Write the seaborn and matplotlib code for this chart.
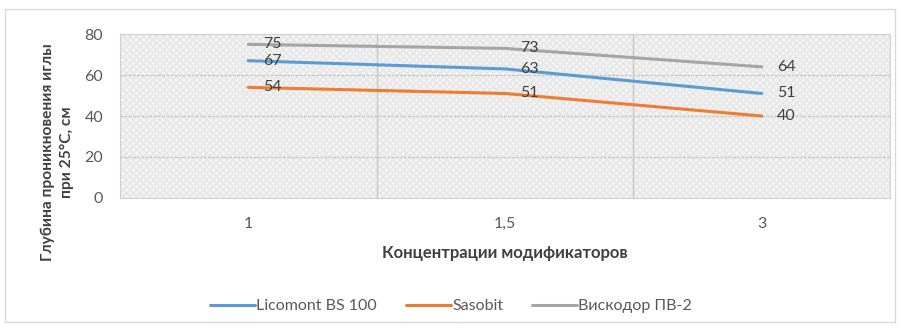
import matplotlib
matplotlib.use("Agg")
import matplotlib.pyplot as plt
from matplotlib.patches import Rectangle
import seaborn as sns
import pandas as pd

# Concentrations of the modifiers (categorical x axis)
concentrations = ["1", "1,5", "3"]
series_names = ["Licomont BS 100", "Sasobit", "Вискодор ПВ-2"]
licomont = [67, 63, 51]
sasobit = [54, 51, 40]
viskodor = [75, 73, 64]
colors = ["#5B9BD5", "#ED7D31", "#A5A5A5"]

rows = []
for name, vals in zip(series_names, [licomont, sasobit, viskodor]):
    for i, v in enumerate(vals):
        rows.append({"pos": i, "value": v, "series": name})
df = pd.DataFrame(rows)

sns.set_theme(style="white")
plt.rcParams["font.family"] = ["Lato", "DejaVu Sans"]

fig = plt.figure(figsize=(9.01, 3.31), dpi=100)
fig.patch.set_facecolor("white")
# outer chart frame
fig.patches.append(Rectangle((5 / 901, 9 / 331), 890 / 901, 313 / 331,
                             transform=fig.transFigure, fill=False,
                             edgecolor="#d9d9d9", linewidth=1.0))

ax = fig.add_axes([0.133, 0.402, 0.855, 0.495])
ax.set_facecolor("#f3f3f3")
ax.add_patch(Rectangle((0, 0), 1, 1, transform=ax.transAxes, fill=False,
                       hatch="xxxxx", edgecolor="#e6e6e6", linewidth=0, zorder=0))

sns.lineplot(data=df, x="pos", y="value", hue="series", hue_order=series_names,
             palette=colors, linewidth=2.2, ax=ax, legend=True, zorder=3)

# data labels to the right of each point
for name, vals in zip(series_names, [licomont, sasobit, viskodor]):
    for i, v in enumerate(vals):
        ax.annotate(str(v), (i, v), xytext=(11, 0), textcoords="offset points",
                    ha="left", va="center", fontsize=11.5, color="#404040", zorder=4)

ax.set_xlim(-0.5, 2.5)
ax.set_ylim(0, 80)
ax.set_yticks([0, 20, 40, 60, 80])
ax.set_xticks(range(len(concentrations)))
ax.set_xticklabels(concentrations)
ax.tick_params(axis="both", labelsize=11.5, labelcolor="#595959", length=0)
ax.tick_params(axis="x", pad=14)
ax.tick_params(axis="y", pad=12)

# gridlines
for y in [20, 40, 60]:
    ax.axhline(y, color="#c8c8c8", linewidth=1.0, linestyle=(0, (2, 1)), zorder=1)
for x in [0.5, 1.5]:
    ax.axvline(x, color="#c8c8c8", linewidth=1.0, zorder=1)

for s in ax.spines.values():
    s.set_color("#d0d0d0")
    s.set_linewidth(0.8)

ax.set_xlabel("Концентрации модификаторов", fontsize=12, fontweight="bold",
              color="#404040", labelpad=10)
ax.set_ylabel("")
fig.text(57 / 901, 1 - 152 / 331, "Глубина проникновения иглы\nпри 25°С, см",
         rotation=90, ha="center", va="center", multialignment="center",
         fontsize=11.2, fontweight="bold", color="#404040", linespacing=1.45)

handles, labels = ax.get_legend_handles_labels()
ax.legend(handles, labels, loc="center", bbox_to_anchor=(0.43, -0.66), ncol=3,
          frameon=False, fontsize=11.5, handlelength=2.8, columnspacing=1.8,
          handletextpad=0.1, labelcolor="#595959")

fig.savefig("out.png", dpi=100)
